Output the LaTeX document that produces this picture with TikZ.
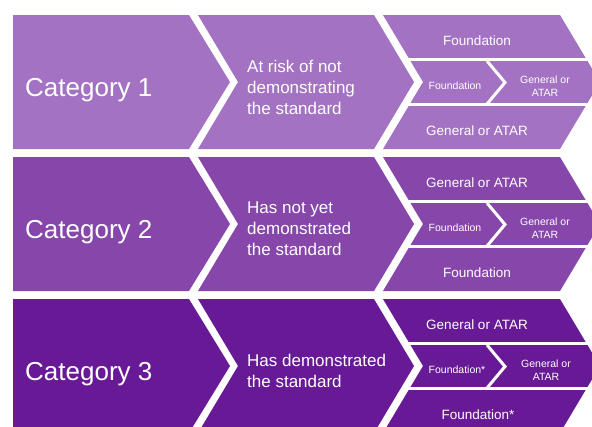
\documentclass[tikz,border=0pt]{standalone}
\usepackage{fontspec}
\setmainfont{Liberation Sans}
\definecolor{rowA}{RGB}{164,114,194}
\definecolor{rowB}{RGB}{134,70,170}
\definecolor{rowC}{RGB}{104,25,150}
\begin{document}
\begin{tikzpicture}[x=1pt,y=-1pt,
  cat/.style={anchor=west,text=white,font=\fontsize{26}{30}\selectfont,inner sep=0pt},
  desc/.style={anchor=west,text=white,align=left,font=\fontsize{17}{21}\selectfont,inner sep=0pt},
  big/.style={text=white,font=\fontsize{13.5}{16}\selectfont,inner sep=0pt},
  small/.style={text=white,align=center,font=\fontsize{10.5}{13}\selectfont,inner sep=0pt},
  sep/.style={white,line width=3pt}]
\useasboundingbox (0,0) rectangle (592,426);
\fill[white] (0,0) rectangle (592,426);
\foreach \r/\c in {0/rowA,142/rowB,284/rowC}{
  \fill[\c] (13,\r+15) -- (189,\r+15) -- (230,\r+82) -- (189,\r+149) -- (13,\r+149) -- cycle;
  \fill[\c] (198,\r+15) -- (374,\r+15) -- (414,\r+82) -- (374,\r+149) -- (198,\r+149) -- (238,\r+82) -- cycle;
  \fill[\c] (383,\r+15) -- (560,\r+15) -- (600,\r+82) -- (560,\r+149) -- (383,\r+149) -- (423,\r+82) -- cycle;
  \draw[sep] (405,\r+59.5) -- (605,\r+59.5);
  \draw[sep] (405,\r+104.5) -- (605,\r+104.5);
  \draw[sep] (487,\r+61) -- (505,\r+82.5) -- (487,\r+104);
}
% Row 1
\node[cat] (c1) at (25,90) {Category 1};
\node[desc] (d1) at (247,87) {At risk of not\\demonstrating\\the standard};
\node[big] (t1) at (477,41) {Foundation};
\node[small] (m1a) at (455,86) {Foundation};
\node[small] (m1b) at (545,86) {General or\\ATAR};
\node[big] (b1) at (477,131) {General or ATAR};
% Row 2
\node[cat] (c2) at (25,232) {Category 2};
\node[desc] (d2) at (247,229) {Has not yet\\demonstrated\\the standard};
\node[big] (t2) at (477,183) {General or ATAR};
\node[small] (m2a) at (455,228) {Foundation};
\node[small] (m2b) at (545,228) {General or\\ATAR};
\node[big] (b2) at (477,273) {Foundation};
% Row 3
\node[cat] (c3) at (25,374) {Category 3};
\node[desc] (d3) at (247,371) {Has demonstrated\\the standard};
\node[big] (t3) at (477,325) {General or ATAR};
\node[small] (m3a) at (457,370) {Foundation*};
\node[small] (m3b) at (546,370) {General or\\ATAR};
\node[big] (b3) at (478,415) {Foundation*};
\end{tikzpicture}
\end{document}
